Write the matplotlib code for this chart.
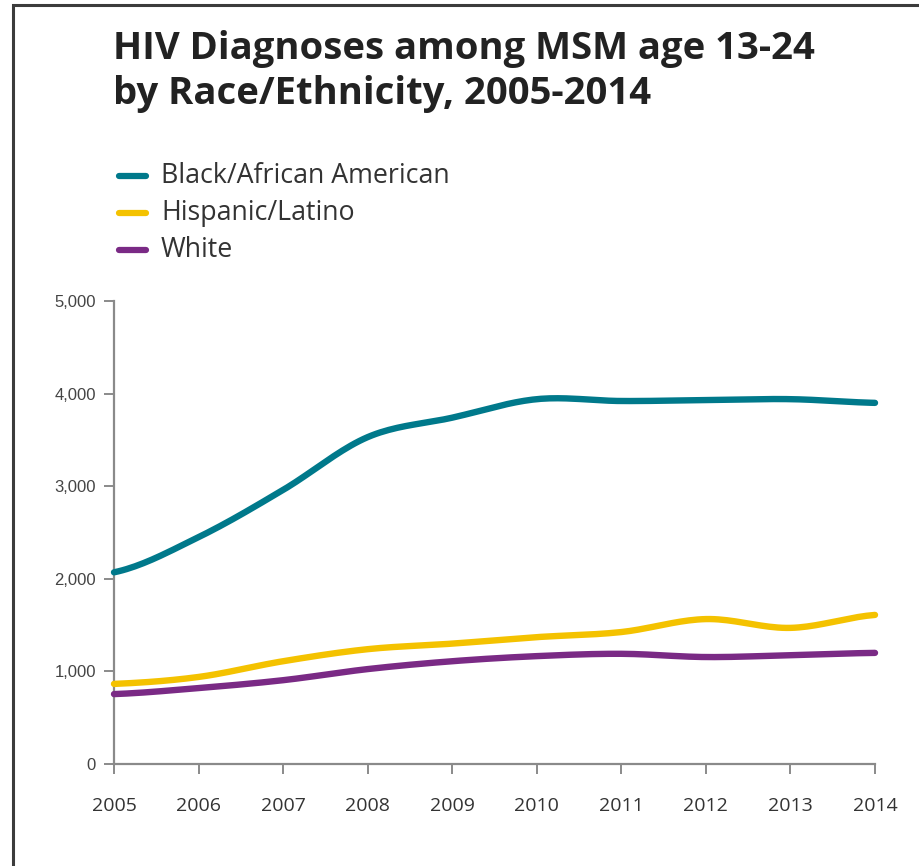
import numpy as np
import matplotlib
matplotlib.use("Agg")
import matplotlib.pyplot as plt
from matplotlib.patches import Rectangle
from matplotlib.lines import Line2D

years = [2005, 2006, 2007, 2008, 2009, 2010, 2011, 2012, 2013, 2014]
black = [2070, 2450, 2960, 3530, 3740, 3940, 3920, 3930, 3940, 3900]
hispanic = [865, 940, 1110, 1240, 1300, 1370, 1425, 1565, 1470, 1610]
white = [755, 820, 905, 1025, 1110, 1165, 1190, 1155, 1175, 1200]
series_names = ["Black/African American", "Hispanic/Latino", "White"]
colors = ["#00798B", "#F4C200", "#7A2A85"]
yticks = [0, 1000, 2000, 3000, 4000, 5000]

def smooth(x, y, n=20):
    # Catmull-Rom spline through the data points (for drawing only)
    x = np.asarray(x, float); y = np.asarray(y, float)
    xs, ys = [], []
    for i in range(len(x) - 1):
        p0 = y[i - 1] if i > 0 else y[i]
        p1, p2 = y[i], y[i + 1]
        p3 = y[i + 2] if i + 2 < len(y) else y[i + 1]
        t = np.linspace(0, 1, n, endpoint=False)
        yy = 0.5 * ((2 * p1) + (-p0 + p2) * t + (2 * p0 - 5 * p1 + 4 * p2 - p3) * t**2
                    + (-p0 + 3 * p1 - 3 * p2 + p3) * t**3)
        xx = x[i] + (x[i + 1] - x[i]) * t
        xs.extend(xx); ys.extend(yy)
    xs.append(x[-1]); ys.append(y[-1])
    return np.array(xs), np.array(ys)

fig = plt.figure(figsize=(9.19, 8.66), dpi=100)
W, H = 919, 866

# frame
fig.patches.append(Rectangle((13 / W, -0.1), 1.2, 1 - 5 / H + 0.1, transform=fig.transFigure,
                             fill=False, edgecolor="#3c3c3c", linewidth=2.2))

ax = fig.add_axes([114 / W, (H - 764) / H, (875 - 114) / W, (764 - 301) / H])
for vals, c in zip([black, hispanic, white], colors):
    xs, ys = smooth(years, vals)
    ax.plot(xs, ys, color=c, lw=4.6, solid_capstyle="round", clip_on=False, zorder=3)

ax.set_xlim(2005, 2014)
ax.set_ylim(0, 5000)
ax.set_xticks(years)
ax.set_xticklabels([str(y) for y in years], fontfamily="Open Sans", fontsize=14, color="#333333")
ax.set_yticks(yticks)
ax.set_yticklabels([f"{v:,}" for v in yticks], fontfamily="Liberation Sans", fontsize=12, color="#444444")
for s in ["top", "right"]:
    ax.spines[s].set_visible(False)
for s in ["left", "bottom"]:
    ax.spines[s].set_color("#8a8a8a")
    ax.spines[s].set_linewidth(1.6)
ax.tick_params(axis="both", colors="#8a8a8a", length=7, width=1.4)
ax.tick_params(axis="x", pad=17, labelcolor="#333333")
ax.tick_params(axis="y", pad=6, labelcolor="#444444")

# title
fig.text(113 / W, 1 - 59 / H, "HIV Diagnoses among MSM age 13-24", fontfamily="Open Sans",
         fontweight="bold", fontsize=27.5, color="#222222", va="baseline", ha="left")
fig.text(113 / W, 1 - 104 / H, "by Race/Ethnicity, 2005-2014", fontfamily="Open Sans",
         fontweight="bold", fontsize=27.5, color="#222222", va="baseline", ha="left")

# legend
for i, (name, c) in enumerate(zip(series_names, colors)):
    yy = 1 - (176 + 37 * i) / H
    fig.add_artist(Line2D([119 / W, 146 / W], [yy, yy], transform=fig.transFigure,
                          color=c, lw=4.5, solid_capstyle="round"))
    fig.text(161 / W, yy, name, fontfamily="Open Sans", fontsize=19.3, color="#333333",
             va="center", ha="left")

fig.savefig("out.png", dpi=100)
